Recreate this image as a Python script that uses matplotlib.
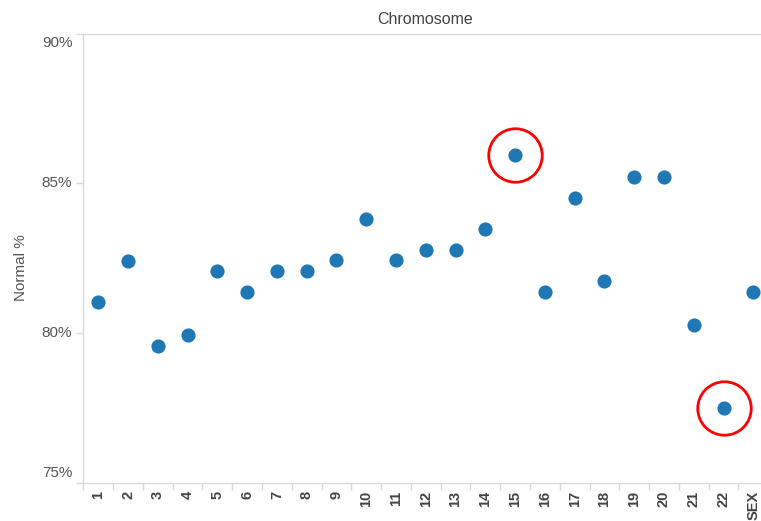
import matplotlib
matplotlib.use("Agg")
import matplotlib.pyplot as plt
from matplotlib.ticker import FixedLocator, FuncFormatter
from matplotlib.transforms import ScaledTranslation

categories = ["1", "2", "3", "4", "5", "6", "7", "8", "9", "10", "11", "12",
              "13", "14", "15", "16", "17", "18", "19", "20", "21", "22", "SEX"]
normal_pct = [81.03, 82.42, 79.58, 79.92, 82.07, 81.37, 82.07, 82.07, 82.43,
              83.81, 82.43, 82.77, 82.77, 83.46, 85.96, 81.37, 84.51, 81.73,
              85.21, 85.21, 80.28, 77.49, 81.37]
highlighted = ["15", "22"]
y_ticks = [75, 80, 85, 90]

plt.rcParams['font.family'] = ['Liberation Sans', 'DejaVu Sans']

W, H = 761, 521
fig = plt.figure(figsize=(W / 100, H / 100), dpi=100)
left_px, right_px, top_px, bottom_px = 83.4, 761, 33.7, 482.7
ax = fig.add_axes([left_px / W, 1 - bottom_px / H,
                   (right_px - left_px) / W, (bottom_px - top_px) / H])

xs = list(range(len(categories)))
ax.plot(xs, normal_pct, linestyle='none', marker='o', markersize=10.2,
        color='#1f77b4', markeredgewidth=0, zorder=3)

hx = [categories.index(c) for c in highlighted]
hy = [normal_pct[i] for i in hx]
ax.plot(hx, hy, linestyle='none', marker='o', markersize=38.5,
        markerfacecolor='none', markeredgecolor='#ff0000',
        markeredgewidth=2.0, zorder=4, clip_on=False)

ax.yaxis.set_major_locator(FixedLocator(y_ticks))
ax.yaxis.set_major_formatter(FuncFormatter(lambda v, p: f"{v:.0f}%"))
ax.tick_params(axis='y', length=5, width=1, color='#d9d9d9',
               labelsize=11, labelcolor='#555555', pad=3)

ax.set_xticks(xs)
ax.set_xticklabels(categories, rotation=90, fontweight='bold',
                   fontsize=10.5, color='#444444', va='top', ha='center')
ax.set_xticks([i - 0.5 for i in range(len(categories) + 1)], minor=True)
ax.tick_params(axis='x', which='major', length=0, pad=6)
ax.tick_params(axis='x', which='minor', length=5, width=1, color='#d9d9d9')

ax.set_ylim(75, 90)
ax.set_xlim(-0.5, 22.5 - (768.2 - 761) / 29.77)

fig.canvas.draw()
for lbl, v in zip(ax.get_yticklabels(), y_ticks):
    lbl.set_verticalalignment('center')
    if v == 90:
        lbl.set_transform(lbl.get_transform() +
                          ScaledTranslation(0, -9.5 / 100, fig.dpi_scale_trans))
    elif v == 75:
        lbl.set_transform(lbl.get_transform() +
                          ScaledTranslation(0, 10 / 100, fig.dpi_scale_trans))

for side in ['left', 'top', 'bottom']:
    ax.spines[side].set_color('#d9d9d9')
    ax.spines[side].set_linewidth(1)
ax.spines['right'].set_visible(False)

fig.text(425.5 / W, 1 - 19 / H, "Chromosome", ha='center', va='center',
         fontsize=11.5, color='#444444')
fig.text(21 / W, 1 - 268 / H, "Normal %", ha='center', va='center',
         rotation=90, fontsize=11, color='#555555')

fig.savefig("out.png", dpi=100)
